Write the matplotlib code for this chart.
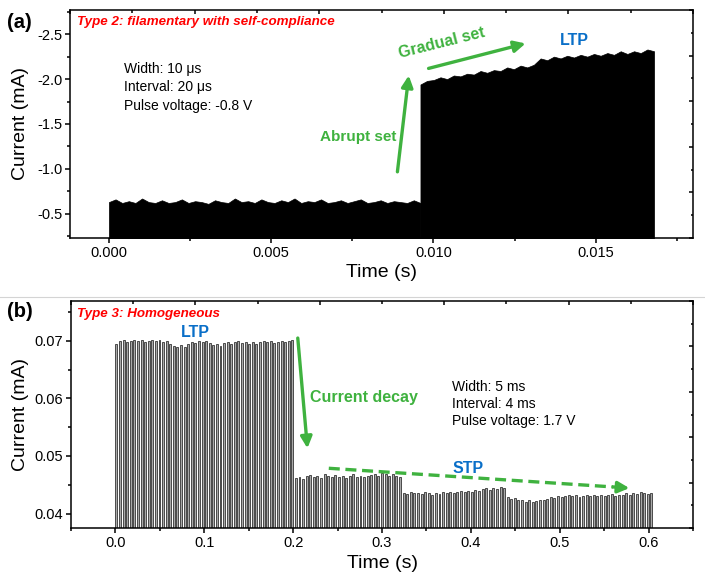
import matplotlib
matplotlib.use('Agg')
import matplotlib.pyplot as plt
import numpy as np
from matplotlib.ticker import MultipleLocator, FormatStrFormatter
from matplotlib.lines import Line2D

plt.rcParams['font.family'] = ['Liberation Sans', 'DejaVu Sans']
plt.rcParams['axes.unicode_minus'] = False
plt.rcParams['axes.linewidth'] = 1.1

GREEN = '#3fb23f'
BLUE = '#0a6fc8'
RED = '#ff0000'

# (a) envelope of the pulse train, before and after the abrupt set (mA)
cur_a1 = [-0.63, -0.66, -0.62, -0.64, -0.62, -0.67, -0.63, -0.62, -0.65, -0.62,
          -0.63, -0.66, -0.62, -0.64, -0.63, -0.61, -0.65, -0.63, -0.62, -0.67,
          -0.63, -0.64, -0.62, -0.66, -0.63, -0.62, -0.65, -0.63, -0.67, -0.62,
          -0.64, -0.63, -0.66, -0.62, -0.63, -0.65, -0.62, -0.64, -0.66, -0.62,
          -0.63, -0.65, -0.62, -0.64, -0.63, -0.62, -0.65, -0.62]
cur_a2 = [-1.94, -1.98, -1.99, -2.02, -2.00, -2.04, -2.03, -2.06, -2.05, -2.09,
          -2.07, -2.10, -2.09, -2.13, -2.11, -2.15, -2.13, -2.16, -2.23, -2.21,
          -2.25, -2.23, -2.26, -2.24, -2.27, -2.25, -2.28, -2.26, -2.29, -2.27,
          -2.31, -2.28, -2.31, -2.29, -2.33, -2.31]
t_a1_span = (0.0, 0.0096)
t_a2_span = (0.0096, 0.0168)

# (b) pulse top currents (mA), one value per pulse
cur_ltp = [0.0694, 0.0699, 0.0701, 0.0698, 0.0700, 0.0702, 0.0699, 0.0701, 0.0698, 0.0700,
           0.0702, 0.0699, 0.0701, 0.0697, 0.0699, 0.0694, 0.0691, 0.0689, 0.0693, 0.0690,
           0.0695, 0.0698, 0.0696, 0.0699, 0.0697, 0.0700, 0.0696, 0.0692, 0.0694, 0.0691,
           0.0696, 0.0698, 0.0695, 0.0697, 0.0699, 0.0696, 0.0698, 0.0694, 0.0697, 0.0695,
           0.0698, 0.0700, 0.0697, 0.0699, 0.0696, 0.0698, 0.0700, 0.0697, 0.0699, 0.0701]
cur_stp1 = [0.0461, 0.0464, 0.0460, 0.0465, 0.0467, 0.0463, 0.0466, 0.0462, 0.0468, 0.0465,
            0.0463, 0.0467, 0.0464, 0.0466, 0.0462, 0.0465, 0.0468, 0.0464, 0.0466, 0.0463,
            0.0465, 0.0467, 0.0469, 0.0466, 0.0471, 0.0468, 0.0466, 0.0469, 0.0465, 0.0463]
cur_stp2 = [0.0436, 0.0434, 0.0437, 0.0435, 0.0436, 0.0434, 0.0437, 0.0435, 0.0433, 0.0436,
            0.0434, 0.0437, 0.0435, 0.0438, 0.0436, 0.0437, 0.0439, 0.0437, 0.0440, 0.0438,
            0.0441, 0.0439, 0.0442, 0.0444, 0.0441, 0.0445, 0.0443, 0.0446, 0.0444]
cur_stp3 = [0.0428, 0.0425, 0.0427, 0.0423, 0.0424, 0.0421, 0.0423, 0.0420, 0.0422, 0.0424,
            0.0423, 0.0426, 0.0428, 0.0427, 0.0430, 0.0428, 0.0431, 0.0433, 0.0430, 0.0432,
            0.0429, 0.0431, 0.0433, 0.0430, 0.0432, 0.0431, 0.0433, 0.0430, 0.0432, 0.0434,
            0.0431, 0.0433, 0.0432, 0.0435, 0.0433, 0.0436, 0.0434, 0.0437, 0.0435, 0.0434,
            0.0436]
pulse_period = 0.00404
pulse_width = 0.0022


def style(ax):
    ax.tick_params(which='both', direction='out', top=False, right=False,
                   labelsize=10.5, width=1.1, pad=2)
    ax.tick_params(which='major', length=3.5)
    ax.tick_params(which='minor', length=2)
    # mirrored ticks on top/right, pointing in
    ov = fig.add_axes(ax.get_position(), frameon=False)
    ov.set_xlim(0, 1)
    ov.set_ylim(0, 1)
    for axis in (ov.xaxis, ov.yaxis):
        axis.set_major_locator(MultipleLocator(0.2))
        axis.set_minor_locator(MultipleLocator(0.1))
    ov.tick_params(which='both', direction='in', bottom=False, left=False,
                   top=True, right=True, labelbottom=False, labelleft=False, width=1.1)
    ov.tick_params(which='major', length=3)
    ov.tick_params(which='minor', length=1.8)


fig = plt.figure(figsize=(7.05, 5.83), dpi=100)
ax1 = fig.add_axes([0.0993, 0.5918, 0.8837, 0.3911])
ax2 = fig.add_axes([0.1007, 0.0943, 0.8823, 0.3894])

# ---- (a)
t1 = np.linspace(*t_a1_span, len(cur_a1))
t2 = np.linspace(*t_a2_span, len(cur_a2))
ax1.fill_between(t1, cur_a1, 0, color='black', lw=0.5)
ax1.fill_between(t2, cur_a2, 0, color='black', lw=0.5)
ax1.set_xlim(-0.0012, 0.018)
ax1.set_ylim(-0.23, -2.77)
ax1.xaxis.set_major_locator(MultipleLocator(0.005))
ax1.xaxis.set_minor_locator(MultipleLocator(0.0025))
ax1.xaxis.set_major_formatter(FormatStrFormatter('%.3f'))
ax1.yaxis.set_major_locator(MultipleLocator(0.5))
ax1.yaxis.set_minor_locator(MultipleLocator(0.25))
ax1.yaxis.set_major_formatter(FormatStrFormatter('%.1f'))
ax1.set_xlabel('Time (s)', fontsize=14)
ax1.set_ylabel('Current (mA)', fontsize=14)
ax1.xaxis.set_label_coords(0.5, -0.115)
ax1.yaxis.set_label_coords(-0.066, 0.5)
style(ax1)

ax1.text(0.0107, 0.947, 'Type 2: filamentary with self-compliance', transform=ax1.transAxes,
         color=RED, fontsize=9.6, fontweight='bold', fontstyle='italic', va='center')
for yy, s in zip([0.743, 0.660, 0.579],
                 ['Width: 10 μs', 'Interval: 20 μs', 'Pulse voltage: -0.8 V']):
    ax1.text(0.0867, yy, s, transform=ax1.transAxes, fontsize=10, va='center')
ax1.annotate('', xy=(0.00924, -2.04), xytext=(0.00889, -0.967),
             arrowprops=dict(arrowstyle='-|>', lw=2.4, color=GREEN, mutation_scale=17,
                             shrinkA=0, shrinkB=0))
ax1.annotate('', xy=(0.01284, -2.397), xytext=(0.00985, -2.119),
             arrowprops=dict(arrowstyle='-|>', lw=2.4, color=GREEN, mutation_scale=17,
                             shrinkA=0, shrinkB=0))
ax1.text(0.00885, -1.356, 'Abrupt set', color=GREEN, fontsize=11, fontweight='bold',
         ha='right', va='center')
ax1.text(0.01025, -2.40, 'Gradual set', color=GREEN, fontsize=11.5, fontweight='bold',
         ha='center', va='center', rotation=14)
ax1.text(0.01433, -2.433, 'LTP', color=BLUE, fontsize=11.5, fontweight='bold',
         ha='center', va='center')

# ---- (b)
cur_b = cur_ltp + cur_stp1 + cur_stp2 + cur_stp3
t_b = np.arange(len(cur_b)) * pulse_period
ax2.bar(t_b, cur_b, width=pulse_width, align='edge', color='#a9a9a9',
        edgecolor='black', linewidth=0.45)
ax2.set_xlim(-0.05, 0.65)
ax2.set_ylim(0.0375, 0.0769)
ax2.xaxis.set_major_locator(MultipleLocator(0.1))
ax2.xaxis.set_minor_locator(MultipleLocator(0.05))
ax2.xaxis.set_major_formatter(FormatStrFormatter('%.1f'))
ax2.yaxis.set_major_locator(MultipleLocator(0.01))
ax2.yaxis.set_minor_locator(MultipleLocator(0.005))
ax2.yaxis.set_major_formatter(FormatStrFormatter('%.2f'))
ax2.set_xlabel('Time (s)', fontsize=14)
ax2.set_ylabel('Current (mA)', fontsize=14)
ax2.xaxis.set_label_coords(0.5, -0.118)
ax2.yaxis.set_label_coords(-0.067, 0.5)
style(ax2)

ax2.text(0.0093, 0.943, 'Type 3: Homogeneous', transform=ax2.transAxes,
         color=RED, fontsize=9.6, fontweight='bold', fontstyle='italic', va='center')
for yy, s in zip([0.621, 0.546, 0.471],
                 ['Width: 5 ms', 'Interval: 4 ms', 'Pulse voltage: 1.7 V']):
    ax2.text(0.612, yy, s, transform=ax2.transAxes, fontsize=10, va='center')
ax2.text(0.0902, 0.07139, 'LTP', color=BLUE, fontsize=11.5, fontweight='bold',
         ha='center', va='center')
ax2.annotate('', xy=(0.2161, 0.05134), xytext=(0.2052, 0.07047),
             arrowprops=dict(arrowstyle='-|>', lw=2.4, color=GREEN, mutation_scale=17,
                             shrinkA=0, shrinkB=0))
ax2.text(0.2795, 0.0602, 'Current decay', color=GREEN, fontsize=11.5, fontweight='bold',
         ha='center', va='center')
ax2.text(0.3965, 0.0479, 'STP', color=BLUE, fontsize=11.5, fontweight='bold',
         ha='center', va='center')
ax2.plot([0.2401, 0.560], [0.04787, 0.04463], color=GREEN, lw=2.4,
         dashes=(3.3, 1.7), solid_capstyle='butt')
ax2.annotate('', xy=(0.5784, 0.04443), xytext=(0.560, 0.04463),
             arrowprops=dict(arrowstyle='-|>', lw=2.4, color=GREEN, mutation_scale=17,
                             shrinkA=0, shrinkB=0))

# panel letters and faint separator
fig.text(0.0095, 0.961, '(a)', fontsize=14.5, fontweight='bold', va='center')
fig.text(0.0095, 0.465, '(b)', fontsize=14.5, fontweight='bold', va='center')
fig.add_artist(Line2D([0, 1], [0.4906, 0.4906], color='#d4d4d4', lw=0.8))

fig.savefig('out.png', dpi=100)
